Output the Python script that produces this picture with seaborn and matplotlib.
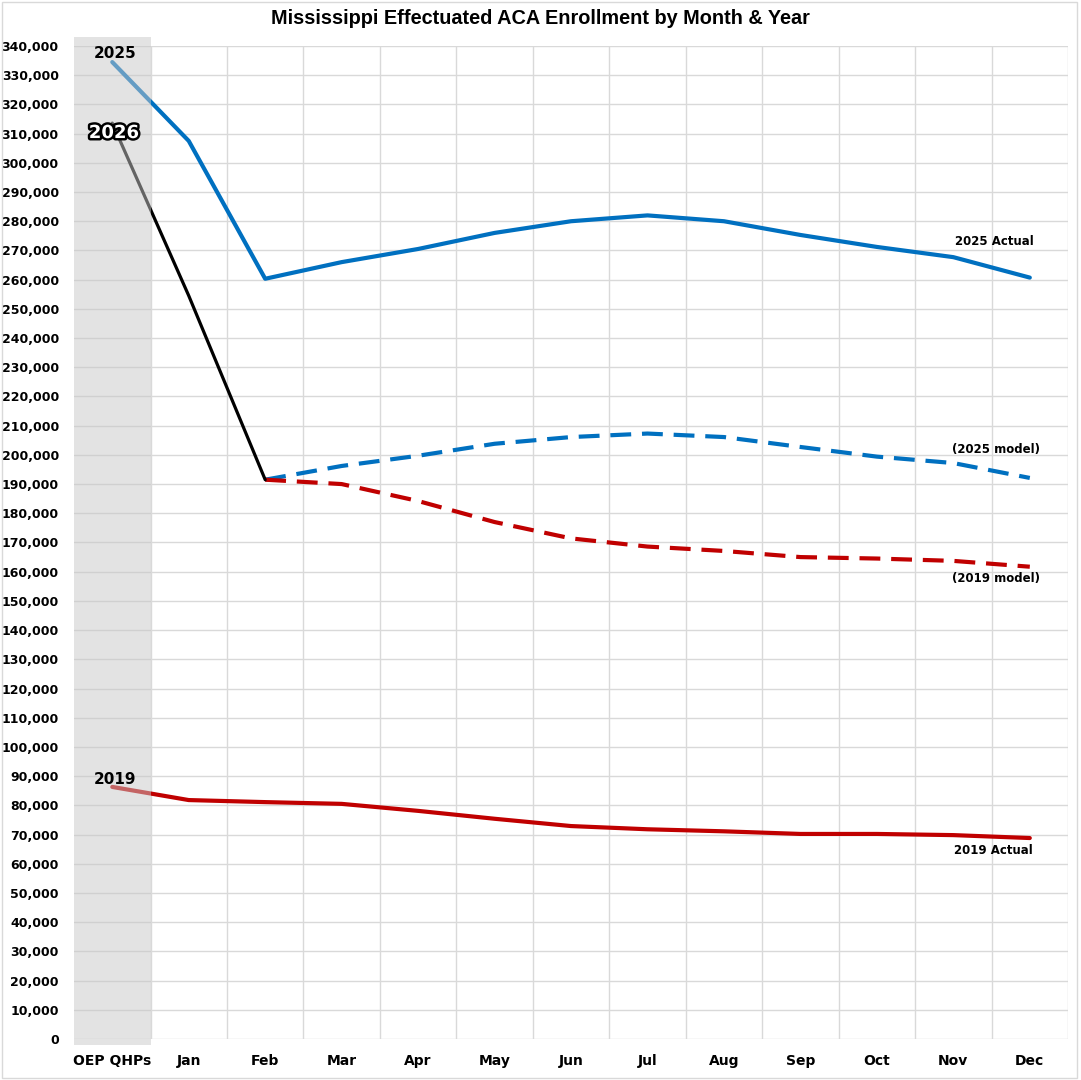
import numpy as np
import pandas as pd
import matplotlib.pyplot as plt
import matplotlib.patheffects as pe
from matplotlib.patches import Rectangle
from matplotlib.ticker import FuncFormatter, MultipleLocator
import seaborn as sns

# categories and series (None = no value)
months = ['OEP QHPs', 'Jan', 'Feb', 'Mar', 'Apr', 'May', 'Jun',
          'Jul', 'Aug', 'Sep', 'Oct', 'Nov', 'Dec']
actual_2025 = [334500, 307500, 260300, 266000, 270500, 276000, 280000,
               282000, 280000, 275300, 271200, 267700, 260700]
actual_2026 = [313600, 254500, 191500, None, None, None, None,
               None, None, None, None, None, None]
model_2025 = [None, None, 191500, 196200, 199700, 203800, 206100,
              207300, 206100, 202700, 199400, 197200, 192100]
model_2019 = [None, None, 191500, 190000, 184200, 177000, 171400,
              168600, 167100, 165000, 164500, 163700, 161700]
actual_2019 = [86300, 81800, 81100, 80500, 78100, 75400, 72900,
               71800, 71100, 70200, 70200, 69800, 68800]

BLUE = '#0070C0'
RED = '#C00000'

sns.set_style('white')
plt.rcParams['font.family'] = ['DejaVu Sans']
plt.rcParams['text.color'] = 'black'
plt.rcParams['xtick.color'] = 'black'
plt.rcParams['ytick.color'] = 'black'

df = pd.DataFrame({'month': months, 'pos': np.arange(len(months)),
                   'a2025': actual_2025, 'a2026': actual_2026,
                   'm2025': model_2025, 'm2019': model_2019,
                   'a2019': actual_2019}).astype({'a2026': float, 'm2025': float, 'm2019': float})

fig = plt.figure(figsize=(10.81, 10.80), dpi=100)
ax = fig.add_axes([0.0685, 0.038, 0.9195, 0.9194])

dash = (0, (5, 2.6))
sns.lineplot(data=df, x='pos', y='a2025', ax=ax, color=BLUE, lw=3, zorder=3)
sns.lineplot(data=df, x='pos', y='m2025', ax=ax, color=BLUE, lw=3, linestyle=dash, zorder=3)
sns.lineplot(data=df, x='pos', y='m2019', ax=ax, color=RED, lw=3, linestyle=dash, zorder=3)
sns.lineplot(data=df, x='pos', y='a2019', ax=ax, color=RED, lw=3, zorder=3)
sns.lineplot(data=df, x='pos', y='a2026', ax=ax, color='black', lw=2.3, zorder=4)

# shaded OEP column, drawn over the lines
ax.axvspan(-0.5, 0.5, ymin=-0.006, ymax=1.009, color='#c8c8c8', alpha=0.5,
           zorder=5, lw=0, clip_on=False)

ax.set_xlim(-0.5, len(months) - 0.5)
ax.set_ylim(0, 340000)
ax.set_xticks(df['pos'])
ax.set_xticklabels(months, fontsize=10, fontweight='bold', color='black')
ax.yaxis.set_major_locator(MultipleLocator(10000))
ax.yaxis.set_major_formatter(FuncFormatter(lambda v, p: f'{int(v):,}'))
for t in ax.get_yticklabels():
    t.set_fontweight('bold')
ax.tick_params(axis='y', labelsize=9, length=0, pad=11, labelcolor='black')
ax.tick_params(axis='x', length=0, pad=11, labelcolor='black')
ax.set_xlabel('')
ax.set_ylabel('')

ax.grid(axis='y', color='#d9d9d9', lw=1, zorder=0)
for b in np.arange(0.5, len(months), 1.0):
    ax.axvline(b, color='#d9d9d9', lw=1, zorder=0)
for s in ax.spines.values():
    s.set_visible(False)

fig.suptitle('Mississippi Effectuated ACA Enrollment by Month & Year',
             x=0.5, y=0.9825, va='center', fontsize=14.3, fontweight='bold',
             family='Liberation Sans', color='black')

# series labels
ax.text(0.04, 337300, '2025', ha='center', va='center', fontsize=11,
        fontweight='bold', zorder=6)
ax.text(0.02, 310200, '2026', ha='center', va='center', fontsize=13,
        fontweight='bold', color='white', zorder=6,
        path_effects=[pe.withStroke(linewidth=3.5, foreground='black')])
ax.text(0.04, 88700, '2019', ha='center', va='center', fontsize=11,
        fontweight='bold', zorder=6)
ax.text(11.54, 272900, '2025 Actual', ha='center', va='center', fontsize=8.5, fontweight='bold')
ax.text(11.56, 201700, '(2025 model)', ha='center', va='center', fontsize=8.5, fontweight='bold')
ax.text(11.56, 157800, '(2019 model)', ha='center', va='center', fontsize=8.5, fontweight='bold')
ax.text(11.52, 64400, '2019 Actual', ha='center', va='center', fontsize=8.5, fontweight='bold')

fig.patches.append(Rectangle((0.002, 0.002), 0.994, 0.996, transform=fig.transFigure,
                             fill=False, edgecolor='#d9d9d9', lw=1))

fig.savefig('out.png', dpi=100)
